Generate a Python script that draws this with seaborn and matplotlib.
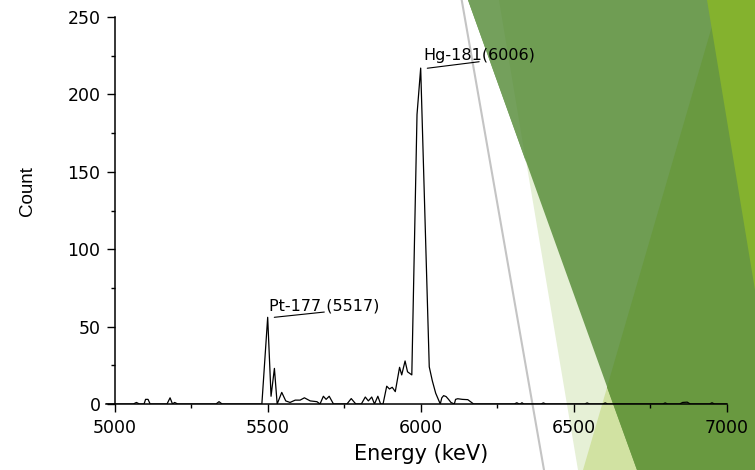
import matplotlib
matplotlib.use("Agg")
import matplotlib.pyplot as plt
from matplotlib.patches import Polygon
from matplotlib.lines import Line2D
from matplotlib.ticker import MultipleLocator
import seaborn as sns
import pandas as pd

# ---- data ----
energy_kev = [4970, 5060, 5070, 5080, 5095, 5100, 5108, 5115, 5170, 5180, 5188, 5195, 5205,
              5330, 5340, 5350, 5480, 5499, 5510, 5521, 5530, 5545, 5558, 5572, 5589, 5605,
              5619, 5638, 5660, 5670, 5681, 5690, 5700, 5714, 5758, 5772, 5787, 5805, 5818,
              5828, 5839, 5848, 5859, 5868, 5876, 5888, 5897, 5906, 5916, 5930, 5937, 5948,
              5956, 5970, 5987, 5999, 6027, 6037, 6048, 6063, 6068, 6074, 6082, 6090, 6098,
              6109, 6113, 6120, 6135, 6153, 6172, 6305, 6313, 6321, 6324, 6330, 6336, 6392,
              6400, 6408, 6535, 6543, 6551, 6594, 6602, 6610, 6790, 6798, 6806, 6845, 6855,
              6870, 6880, 6943, 6951, 6959, 7000]
counts = [0, 0, 1, 0, 0, 3, 3, 0, 0, 4, 0, 1, 0,
          0, 1.5, 0, 0, 56, 5, 23, 0, 7.5, 2, 1, 2.5, 2.5,
          4, 2, 1.5, 0, 5, 3, 5, 0, 0, 3.5, 0, 0, 4.5,
          2, 4.5, 0, 5, 0, 0, 11.5, 9.7, 10.8, 8, 23.7, 18.8, 27.8,
          20.8, 18.8, 187, 217, 24, 15, 7, 0, 4, 5.4, 4.8, 3, 1,
          0, 3, 3.4, 3, 2.8, 0, 0, 0.8, 0, 0, 0.8, 0, 0,
          0.7, 0, 0, 0.7, 0, 0, 0.7, 0, 0, 0.7, 0, 0, 1,
          1.2, 0, 0, 0.8, 0, 0]

x_ticks = [5000, 5500, 6000, 6500, 7000]
y_ticks = [0, 50, 100, 150, 200, 250]
peak_names = ["Pt-177 (5517)", "Hg-181(6006)"]
peak_text_x = [5503, 6006.5]
peak_text_y = [60.7, 222.5]
leader_x = [[5520.6, 5684], [6020.6, 6190]]
leader_y = [[56, 59.4], [216.9, 221.1]]

df = pd.DataFrame({"Energy (keV)": energy_kev, "Count": counts})

sns.set_style("ticks")
plt.rcParams['font.family'] = ['DejaVu Sans']

W, H = 755, 470
fig = plt.figure(figsize=(W / 100, H / 100), dpi=100)
fig.patch.set_facecolor('white')


def fxy(pts):
    return [(x / W, 1 - y / H) for x, y in pts]


# decorative slide shapes (background)
shapes = [
    ([(499, 0), (755, 0), (755, 470), (578, 470)], '#E6F0D6'),
    ([(719.6, 0), (755, 0), (755, 470), (583, 470)], '#D1E2A2'),
    ([(468, 0), (755, 0), (755, 470), (637, 470)], '#6F9D53'),
    ([(468, 0), (499, 0), (526, 162)], '#74A05C'),
    ([(719.6, 0), (755, 0), (755, 470), (637, 470), (607, 387.3)], '#699940'),
    ([(707, 0), (755, 0), (755, 290)], '#84B22E'),
]
for pts, c in shapes:
    fig.add_artist(Polygon(fxy(pts), closed=True, transform=fig.transFigure,
                           facecolor=c, edgecolor='none', zorder=-10))
fig.add_artist(Line2D([461.7 / W, 544 / W], [1, 0], transform=fig.transFigure,
                      color='#C4C4C4', lw=1.5, zorder=-9))

ax = fig.add_axes([105.8 / W, 1 - 404 / H, (727 - 105.8) / W, (404 - 17) / H])
ax.set_facecolor('none')

sns.lineplot(data=df, x="Energy (keV)", y="Count", ax=ax, color='black',
             lw=0.9, estimator=None, sort=False)

ax.set_xlim(4970, 7000)
ax.set_ylim(0, 250)
ax.set_xticks(x_ticks)
ax.set_yticks(y_ticks)
ax.xaxis.set_minor_locator(MultipleLocator(250))
ax.yaxis.set_minor_locator(MultipleLocator(25))

for s in ['top', 'right']:
    ax.spines[s].set_visible(False)
ax.spines['left'].set_position(('data', 5000))
for s in ['left', 'bottom']:
    ax.spines[s].set_linewidth(1.1)
    ax.spines[s].set_color('black')

ax.tick_params(axis='both', which='major', direction='out', length=6, width=1,
               labelsize=12.5, pad=4.5, color='black', labelcolor='black')
ax.tick_params(axis='both', which='minor', direction='out', length=3, width=1,
               color='black')

ax.set_xlabel('Energy (keV)', fontsize=15, color='black')
ax.xaxis.set_label_coords(0.507, -0.103)
ax.set_ylabel('Count', fontsize=13.5, color='black',
              family=['Liberation Sans', 'DejaVu Sans'])
ax.yaxis.set_label_coords(-0.112, 0.55)

for name, tx, ty, lx, ly in zip(peak_names, peak_text_x, peak_text_y, leader_x, leader_y):
    ax.text(tx, ty, name, fontsize=11.5, ha='left', va='baseline', color='black')
    ax.plot(lx, ly, color='black', lw=0.8)

fig.savefig('out.png', dpi=100, facecolor='white')
